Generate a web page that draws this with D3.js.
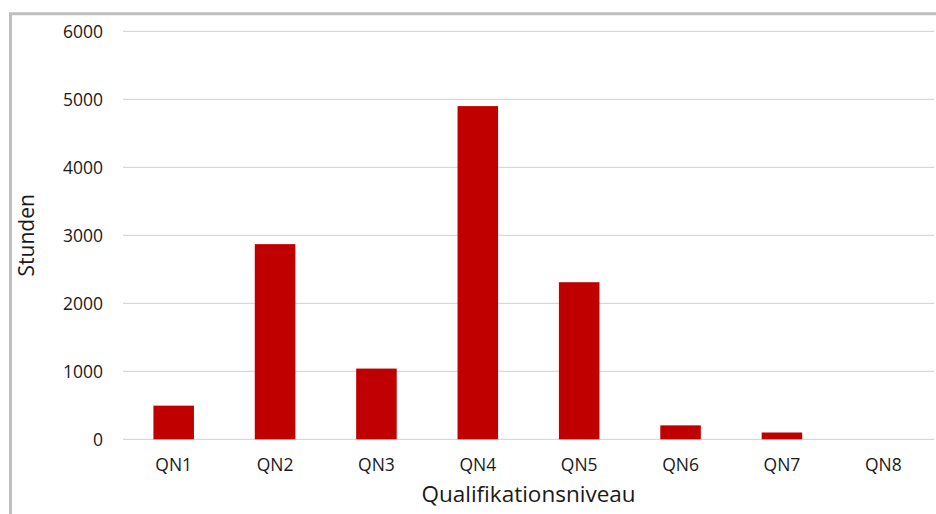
<!DOCTYPE html>
<html>
<head>
<meta charset="utf-8">
<script src="https://cdn.jsdelivr.net/npm/d3@7"></script>
<style>
  html, body { margin: 0; padding: 0; background: #fff; }
  svg { display: block; }
  text { font-family: "Open Sans", sans-serif; fill: #1a1a1a; }
</style>
</head>
<body>
<svg id="chart" width="936" height="514"></svg>
<script>
const categories = ["QN1", "QN2", "QN3", "QN4", "QN5", "QN6", "QN7", "QN8"];
const values = [495, 2870, 1040, 4900, 2310, 205, 100, 0];
const yTicks = [0, 1000, 2000, 3000, 4000, 5000, 6000];
const xTitle = "Qualifikationsniveau";
const yTitle = "Stunden";

const svg = d3.select("#chart");
const W = 936, H = 514;
const m = { left: 123, right: 2, top: 31.3, bottom: 74.7 };

// frame
svg.append("path")
  .attr("d", `M10.5,${H} V13.7 H${W}`)
  .attr("fill", "none")
  .attr("stroke", "#bfbfbf")
  .attr("stroke-width", 3);

const x = d3.scaleBand()
  .domain(categories)
  .range([m.left, W - m.right])
  .paddingInner(0.6)
  .paddingOuter(0.3);

const y = d3.scaleLinear()
  .domain([0, 6000])
  .range([H - m.bottom, m.top]);

// gridlines
svg.append("g")
  .selectAll("line")
  .data(yTicks)
  .join("line")
  .attr("x1", m.left)
  .attr("x2", W - m.right)
  .attr("y1", d => y(d))
  .attr("y2", d => y(d))
  .attr("stroke", "#d9d9d9")
  .attr("stroke-width", 1.3);

// y axis labels
const yAxis = d3.axisLeft(y).tickValues(yTicks).tickFormat(d3.format("d")).tickSize(0).tickPadding(20);
const gy = svg.append("g").attr("transform", `translate(${m.left},0)`).call(yAxis);
gy.select(".domain").remove();
gy.selectAll("text")
  .style("font-family", "'Open Sans', sans-serif")
  .style("font-size", "17.5px")
  .attr("fill", "#1a1a1a")
  .attr("dy", "0.33em");

// bars
svg.append("g")
  .selectAll("rect")
  .data(values)
  .join("rect")
  .attr("x", (d, i) => x(categories[i]))
  .attr("width", x.bandwidth())
  .attr("y", d => y(d))
  .attr("height", d => y(0) - y(d))
  .attr("fill", "#c00000");

// x axis labels
const xAxis = d3.axisBottom(x).tickSize(0).tickPadding(19);
const gx = svg.append("g").attr("transform", `translate(0,${y(0)})`).call(xAxis);
gx.select(".domain").remove();
gx.selectAll("text")
  .style("font-family", "'Open Sans', sans-serif")
  .style("font-size", "17.5px")
  .attr("fill", "#1a1a1a");

// axis titles
svg.append("text")
  .attr("x", (m.left + W - m.right) / 2)
  .attr("y", 501.5)
  .attr("text-anchor", "middle")
  .style("font-size", "22.5px")
  .text(xTitle);

svg.append("text")
  .attr("transform", `translate(33.5,${(y(0) + y(6000)) / 2}) rotate(-90)`)
  .attr("text-anchor", "middle")
  .style("font-size", "21px")
  .text(yTitle);
</script>
</body>
</html>
